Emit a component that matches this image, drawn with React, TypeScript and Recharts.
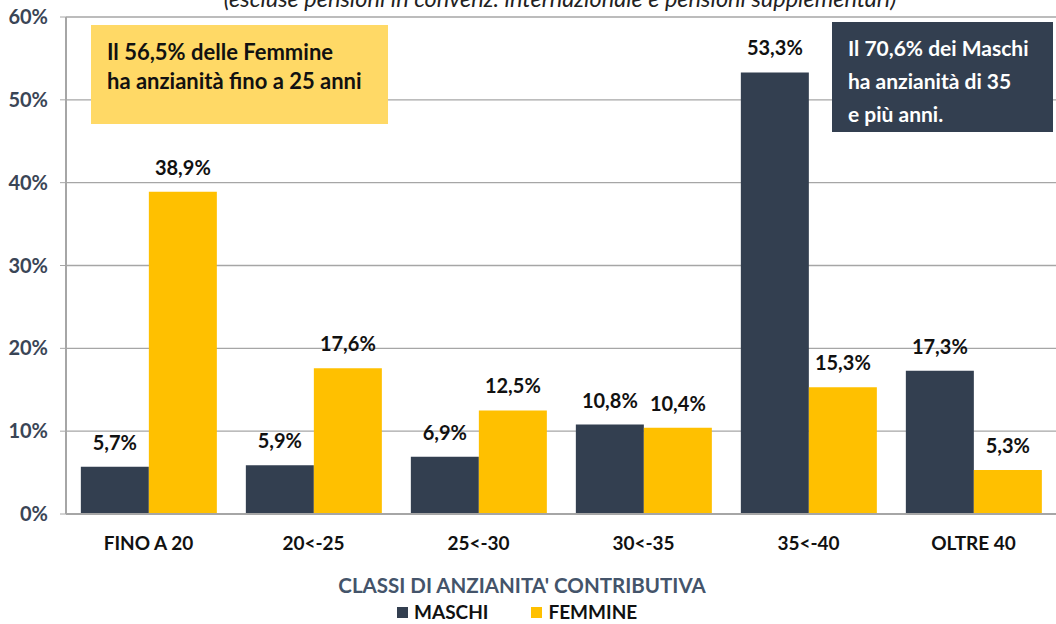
import { BarChart, Bar, XAxis, YAxis, CartesianGrid, LabelList } from "recharts";

const FONT = "Lato, 'Open Sans', sans-serif";

// classi di anzianità contributiva
const categories = ["FINO A 20", "20<-25", "25<-30", "30<-35", "35<-40", "OLTRE 40"];
const maschi = [5.7, 5.9, 6.9, 10.8, 53.3, 17.3];
const femmine = [38.9, 17.6, 12.5, 10.4, 15.3, 5.3];
const yTicks = [0, 10, 20, 30, 40, 50, 60];

const series = [
  { key: "maschi", name: "MASCHI", color: "#333F50" },
  { key: "femmine", name: "FEMMINE", color: "#FFC000" },
];

const data = categories.map((c, i) => ({ cat: c, maschi: maschi[i], femmine: femmine[i] }));

const fmt = (v: number) => v.toFixed(1).replace(".", ",") + "%";

export default function App() {
  return (
    <div style={{ position: "absolute", left: 0, top: 0, width: 1056, height: 624, overflow: "hidden", background: "#fff", fontFamily: FONT }}>
      <div style={{ position: "absolute", left: 0, width: 1120, top: -14, textAlign: "center", fontSize: 23.5, lineHeight: "24px", fontStyle: "italic", color: "#222", whiteSpace: "nowrap" }}>
        (escluse pensioni in convenz. internazionale e pensioni supplementari)
      </div>
      <BarChart
        width={1056}
        height={624}
        data={data}
        margin={{ top: 17, right: 0, left: 0, bottom: 0 }}
        barCategoryGap="9%"
        barGap={0}
      >
        <CartesianGrid vertical={false} stroke="#A6A6A6" strokeWidth={1.3} />
        <XAxis
          dataKey="cat"
          height={110}
          axisLine={{ stroke: "#A6A6A6", strokeWidth: 2 }}
          tickLine={false}
          tickMargin={17}
          tick={{ fill: "#111", fontSize: 19, fontWeight: 700, fontFamily: FONT }}
          interval={0}
        />
        <YAxis
          width={66}
          domain={[0, 60]}
          ticks={yTicks}
          tickFormatter={(v) => `${v}%`}
          axisLine={{ stroke: "#A6A6A6", strokeWidth: 2 }}
          tickLine={{ stroke: "#A6A6A6" }}
          tickMargin={12}
          tick={{ fill: "#3A4556", fontSize: 20, fontWeight: 700, fontFamily: FONT }}
        />
        {series.map((s) => (
          <Bar key={s.key} dataKey={s.key} name={s.name} fill={s.color} isAnimationActive={false}>
            <LabelList
              dataKey={s.key}
              position="top"
              offset={17}
              formatter={(v: any) => fmt(Number(v))}
              style={{ fill: "#111", fontSize: 20, fontWeight: 700, fontFamily: FONT }}
            />
          </Bar>
        ))}
      </BarChart>

      <div style={{ position: "absolute", left: 91, top: 25, width: 297, height: 99, background: "#FFD966", boxSizing: "border-box", padding: "12px 0 0 16px", fontSize: 22, fontWeight: 700, lineHeight: "29px", color: "#111", whiteSpace: "nowrap" }}>
        Il 56,5% delle Femmine
        <br />
        ha anzianità fino a 25 anni
      </div>
      <div style={{ position: "absolute", left: 832, top: 22, width: 221, height: 110, background: "#333F50", boxSizing: "border-box", padding: "9px 0 0 16px", fontSize: 21, fontWeight: 700, lineHeight: "33px", color: "#fff", whiteSpace: "nowrap" }}>
        Il 70,6% dei Maschi
        <br />
        ha anzianità di 35
        <br />
        e più anni.
      </div>

      <div style={{ position: "absolute", left: 0, width: 1044, top: 572, lineHeight: "26px", textAlign: "center", fontSize: 20.5, fontWeight: 700, color: "#44546A" }}>
        CLASSI DI ANZIANITA' CONTRIBUTIVA
      </div>
      <div style={{ position: "absolute", left: 397, top: 601, lineHeight: "22px", display: "flex", alignItems: "center", fontSize: 19, fontWeight: 700, color: "#111" }}>
        {series.map((s) => (
          <div key={s.key} style={{ display: "flex", alignItems: "center", marginRight: 43 }}>
            <span style={{ display: "inline-block", width: 11, height: 11, background: s.color, marginRight: 6 }} />
            <span>{s.name}</span>
          </div>
        ))}
      </div>
    </div>
  );
}
